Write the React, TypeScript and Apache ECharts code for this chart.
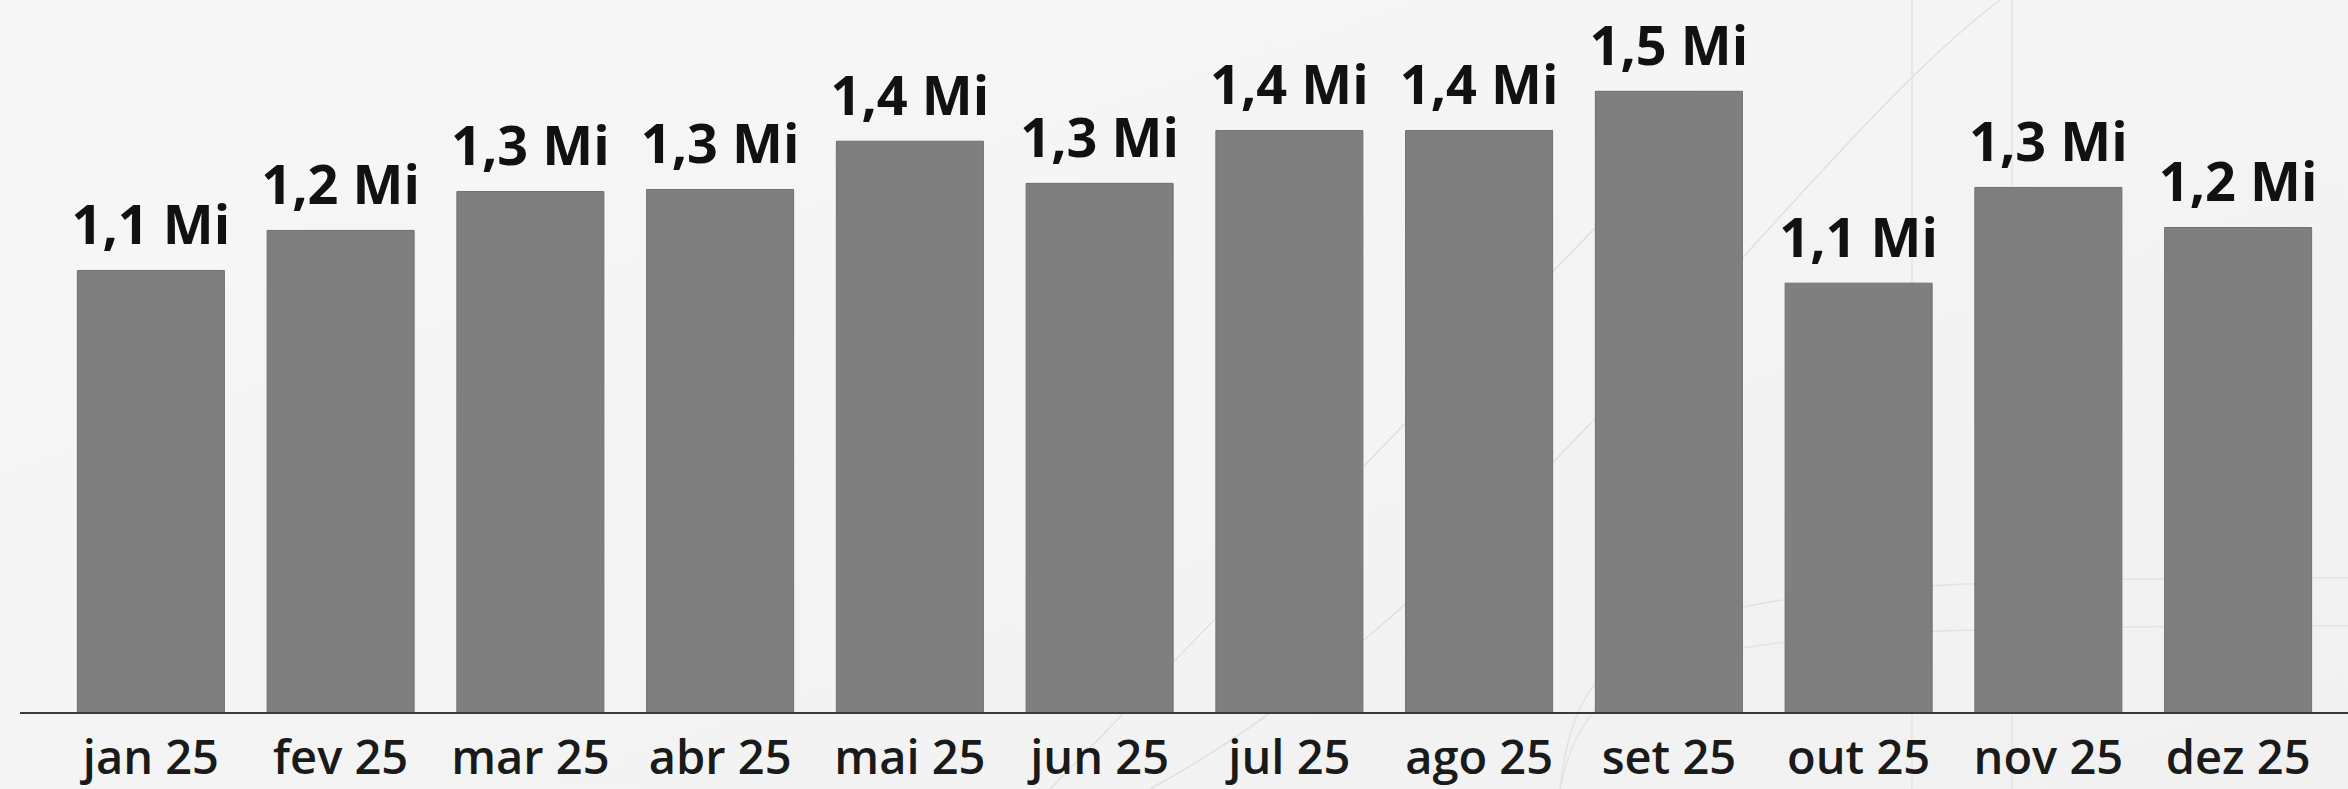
import React, { useEffect, useRef } from "react";
import * as echarts from "echarts";

const categories = ["jan 25", "fev 25", "mar 25", "abr 25", "mai 25", "jun 25", "jul 25", "ago 25", "set 25", "out 25", "nov 25", "dez 25"];
const values = [1083000, 1181000, 1276000, 1281000, 1399000, 1296000, 1425000, 1425000, 1521000, 1052000, 1286000, 1188000];

const fmt = (v: number) => (v / 1e6).toFixed(1).replace(".", ",") + " Mi";

export default function App() {
  const ref = useRef<HTMLDivElement>(null);
  useEffect(() => {
    document.body.style.margin = "0";
    const chart = echarts.init(ref.current!, null, { renderer: "svg" });
    chart.setOption({
      animation: false,
      backgroundColor: {
        type: "linear", x: 0, y: 0, x2: 1, y2: 1,
        colorStops: [
          { offset: 0, color: "#f7f7f7" },
          { offset: 1, color: "#f1f1f1" },
        ],
      },
      grid: { left: 56, right: 15, top: 0, bottom: 76, containLabel: false },
      xAxis: {
        type: "category",
        data: categories,
        axisLine: { show: false },
        axisTick: { show: false },
        axisLabel: {
          interval: 0,
          margin: 17,
          fontFamily: "Open Sans",
          fontWeight: 600,
          fontSize: 47,
          lineHeight: 52,
          color: "#1a1a1a",
        },
      },
      yAxis: {
        type: "value",
        min: 0,
        max: 1743000,
        show: false,
        splitLine: { show: false },
      },
      graphic: [
        { type: "line", silent: true, z: -1, shape: { x1: 1912, y1: 0, x2: 1912, y2: 789 }, style: { stroke: "#e3e3e3", lineWidth: 1.5 } },
        { type: "line", silent: true, z: -1, shape: { x1: 2012, y1: 0, x2: 2012, y2: 789 }, style: { stroke: "#e3e3e3", lineWidth: 1.5 } },
        { type: "line", silent: true, z: -1, shape: { x1: 1050, y1: 789, x2: 1700, y2: 120 }, style: { stroke: "#e0e0e0", lineWidth: 1.5 } },
        { type: "bezierCurve", silent: true, z: -1, shape: { x1: 1150, y1: 789, x2: 2000, y2: 0, cpx1: 1500, cpy1: 600, cpx2: 1800, cpy2: 150 }, style: { stroke: "#e0e0e0", lineWidth: 1.5, fill: null } },
        { type: "bezierCurve", silent: true, z: -1, shape: { x1: 1560, y1: 789, x2: 2348, y2: 578, cpx1: 1580, cpy1: 600, cpx2: 1700, cpy2: 578 }, style: { stroke: "#e3e3e3", lineWidth: 1.5, fill: null } },
        { type: "bezierCurve", silent: true, z: -1, shape: { x1: 1560, y1: 789, x2: 2348, y2: 626, cpx1: 1590, cpy1: 640, cpx2: 1700, cpy2: 626 }, style: { stroke: "#e3e3e3", lineWidth: 1.5, fill: null } },
        { type: "line", silent: true, z: 10, shape: { x1: 20, y1: 713, x2: 2348, y2: 713 }, style: { stroke: "#3a3a3a", lineWidth: 2 } },
      ],
      series: [
        {
          type: "bar",
          data: values,
          barCategoryGap: "22%",
          itemStyle: { color: "#7f7f7f", borderColor: "#6f6f6f", borderWidth: 1 },
          label: {
            show: true,
            position: "top",
            distance: 20,
            formatter: (p: any) => fmt(p.value),
            fontFamily: "Open Sans",
            fontWeight: "bold",
            fontSize: 54,
            color: "#111111",
          },
        },
      ],
    });
    return () => chart.dispose();
  }, []);
  return <div ref={ref} style={{ width: 2348, height: 789 }} />;
}
